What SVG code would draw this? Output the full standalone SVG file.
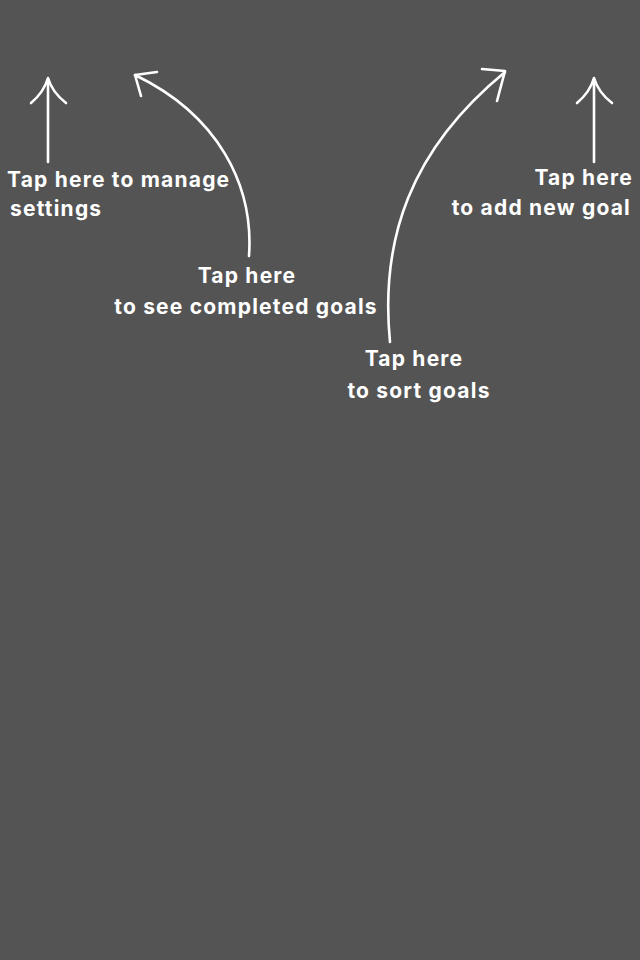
<svg xmlns="http://www.w3.org/2000/svg" width="640" height="960" viewBox="0 0 640 960">
<style>
.bg{fill:#545454}
.lbl{font-family:Inter,Roboto,"Liberation Sans",sans-serif;font-weight:bold;font-size:21px;letter-spacing:1.2px;fill:#ffffff}
.ln{fill:none;stroke:#ffffff;stroke-width:2.6;stroke-linecap:round;stroke-linejoin:round}
</style>
<rect class="bg" x="0" y="0" width="640" height="960"/>
<g id="connectors">
<path class="ln" d="M48,162 L48,80"/>
<path class="ln" d="M31,103 Q44,92 48,78 Q52,92 66,103"/>
<path class="ln" d="M249,256 C254,185 218,115 135,75"/>
<path class="ln" d="M157,72 L135,75 L141,96"/>
<path class="ln" d="M390,342 C380,240 410,150 505,72"/>
<path class="ln" d="M482,69 L505,71 L497,101"/>
<path class="ln" d="M594,162 L594,80"/>
<path class="ln" d="M577,103 Q590,92 594,78 Q598,92 612,103"/>
</g>
<g id="settings">
<text class="lbl" x="7" y="187">Tap here to manage</text>
<text class="lbl" x="10" y="216">settings</text>
</g>
<g id="completed">
<text class="lbl" x="247" y="283" text-anchor="middle">Tap here</text>
<text class="lbl" x="246" y="314" text-anchor="middle">to see completed goals</text>
</g>
<g id="sort">
<text class="lbl" x="414" y="366" text-anchor="middle">Tap here</text>
<text class="lbl" x="419" y="398" text-anchor="middle">to sort goals</text>
</g>
<g id="add">
<text class="lbl" x="633" y="185" text-anchor="end">Tap here</text>
<text class="lbl" x="631" y="215" text-anchor="end">to add new goal</text>
</g>
</svg>
